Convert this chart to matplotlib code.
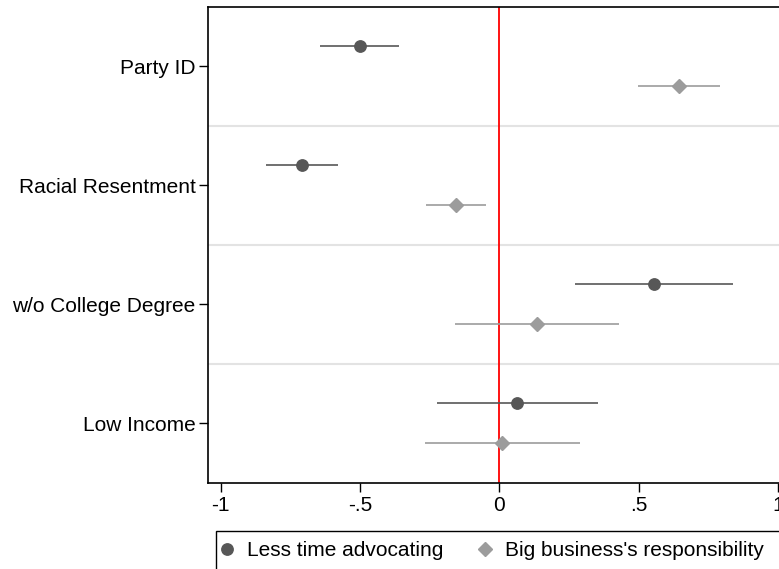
import matplotlib
matplotlib.use("Agg")
import matplotlib.pyplot as plt
from matplotlib.lines import Line2D
from matplotlib.patches import Rectangle

plt.rcParams['font.family'] = ['Liberation Sans', 'DejaVu Sans']

categories = ["Party ID", "Racial Resentment", "w/o College Degree", "Low Income"]
series_names = ["Less time advocating", "Big business's responsibility"]
less_time = [-0.50, -0.709, 0.555, 0.062]
less_time_lo = [-0.645, -0.837, 0.272, -0.225]
less_time_hi = [-0.360, -0.580, 0.839, 0.353]
big_business = [0.645, -0.156, 0.135, 0.010]
big_business_lo = [0.497, -0.263, -0.158, -0.268]
big_business_hi = [0.793, -0.047, 0.430, 0.290]
xticks = [-1, -0.5, 0, 0.5, 1]
xticklabels = ["-1", "-.5", "0", ".5", "1"]

W, H = 779, 569
fig = plt.figure(figsize=(W / 100, H / 100), dpi=100)
left_px, right_px, top_px, bot_px = 207.5, 791.5, 6.7, 482.7
ax = fig.add_axes([left_px / W, 1 - bot_px / H, (right_px - left_px) / W, (bot_px - top_px) / H])

dark = "#575757"
light = "#9c9c9c"
off = 0.168
pos = list(range(1, len(categories) + 1))
fs = 15

for i in range(len(categories)):
    y = pos[i]
    ax.plot([less_time_lo[i], less_time_hi[i]], [y - off, y - off], color=dark, lw=1.2, zorder=3, solid_capstyle='butt')
    ax.plot([less_time[i]], [y - off], marker='o', ms=8.2, color=dark, mec=dark, ls='none', zorder=4)
    ax.plot([big_business_lo[i], big_business_hi[i]], [y + off, y + off], color=light, lw=1.2, zorder=3, solid_capstyle='butt')
    ax.plot([big_business[i]], [y + off], marker='D', ms=7.2, color=light, mec=light, ls='none', zorder=4)

for s in [1.5, 2.5, 3.5]:
    ax.axhline(s, color="#e3e3e3", lw=1.5, zorder=1)
ax.axvline(0, color="#ff0000", lw=1.3, zorder=2)

ax.set_xlim(-1.048, 1.048)
ax.set_ylim(4.5, 0.5)
ax.set_yticks(pos)
ax.set_yticklabels(categories, fontsize=fs)
ax.set_xticks(xticks)
ax.set_xticklabels(xticklabels, fontsize=fs)
ax.tick_params(axis='y', length=6.5, width=1, pad=2)
ax.tick_params(axis='x', length=6.5, width=1, pad=3)
for sp in ax.spines.values():
    sp.set_linewidth(1.2)

# legend frame (extends past the figure edge as in the reference)
fig.patches.append(Rectangle((215.5 / W, -0.05), 1.1 - 215.5 / W, 1 - 530.7 / H + 0.05,
                             transform=fig.transFigure, fill=False, edgecolor='black', lw=1.0))
handles = [
    Line2D([], [], marker='o', ls='none', color=dark, ms=8.2),
    Line2D([], [], marker='D', ls='none', color=light, ms=7.2),
]
leg = fig.legend(handles, series_names, loc='center left', bbox_to_anchor=(220.35 / W, 1 - 551 / H),
                 ncol=2, fontsize=fs, frameon=False,
                 handlelength=0.6, handletextpad=0.67, columnspacing=1.70, borderpad=0,
                 borderaxespad=0)

fig.savefig("out.png", dpi=100)
